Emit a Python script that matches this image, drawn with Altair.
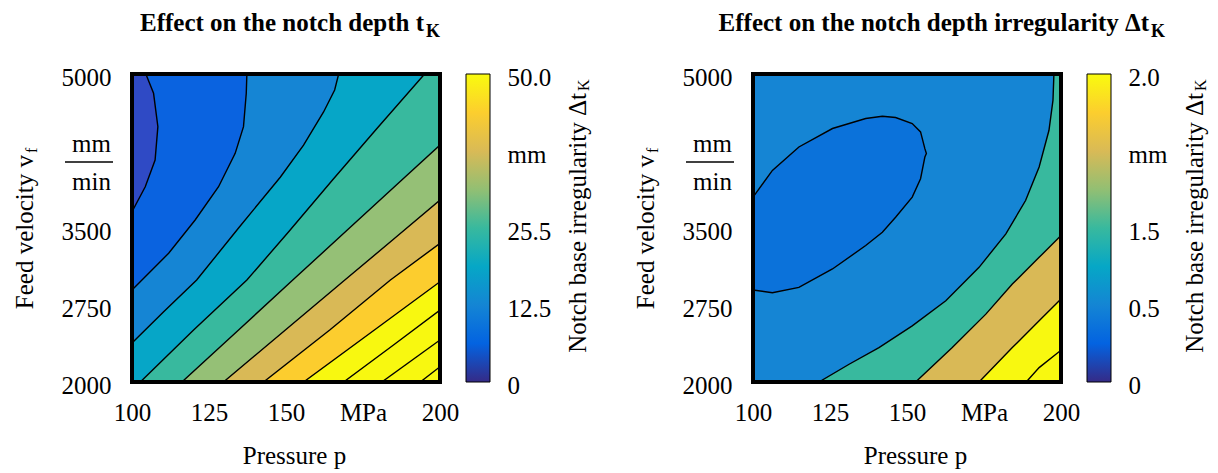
import altair as alt
import pandas as pd

# ---------------- values ----------------
P_TICKS = [100, 125, 150, 175, 200]
P_LABELS = ["100", "125", "150", "MPa", "200"]
V_TICKS = [2000, 2750, 3500, 4250, 5000]
V_LABELS = ["2000", "2750", "3500", "", "5000"]

# left panel (notch depth t_K): contour lines, pressure p [MPa] / feed velocity [mm/min]
L_C1_P = [100.0, 104.3, 107.5, 108.4, 107.0, 104.5]
L_C1_V = [3659, 3902, 4162, 4487, 4812, 5000]
L_C2_P = [100.0, 111.9, 120.5, 128.1, 133.5, 136.2, 137.1, 137.3]
L_C2_V = [2896, 3254, 3578, 3902, 4227, 4487, 4812, 5000]
L_C3_P = [100.0, 110.2, 121.0, 134.6, 148.2, 155.7, 162.2, 165.8, 167.1]
L_C3_V = [2380, 2682, 2993, 3500, 3997, 4308, 4630, 4844, 5000]
L_C4_P = [102.7, 120.0, 137.3, 150.8, 165.1, 179.1, 195.0]
L_C4_V = [2000, 2506, 2993, 3461, 3967, 4454, 5000]
L_C5_P = [116.2, 134.6, 152.2, 169.9, 187.6, 200.0]
L_C5_V = [2000, 2506, 2993, 3480, 3967, 4308]
L_C6_P = [129.7, 149.8, 169.1, 184.6, 200.0]
L_C6_V = [2000, 2506, 2993, 3383, 3773]
L_C7_P = [142.7, 164.2, 183.9, 200.0]
L_C7_V = [2000, 2506, 2993, 3351]
L_C8_P = [155.7, 178.7, 200.0]
L_C8_V = [2000, 2506, 2977]
L_C9_P = [168.7, 184.9, 200.0]
L_C9_V = [2000, 2360, 2701]
L_C10_P = [181.1, 200.0]
L_C10_V = [2000, 2409]
L_C11_P = [193.6, 200.0]
L_C11_V = [2000, 2149]
# fill of the band on the low side of each contour C1..C8, background = highest band
L_FILLS = ["#2F4AC5", "#0A63E0", "#1585D4", "#06A6C7", "#38B99E", "#95C076", "#D9B956", "#FCCD2E"]
L_BG = "#F8F810"

# right panel (notch depth irregularity): contour lines
R_C2_P = [121.4, 131.2, 140.9, 151.7, 162.6, 173.4, 182.1, 188.5, 192.9, 196.1, 197.4, 197.7]
R_C2_V = [2000, 2173, 2335, 2547, 2791, 3117, 3443, 3768, 4094, 4452, 4745, 5000]
R_C3_P = [152.8, 164.7, 175.6, 184.2, 192.9, 200.0]
R_C3_V = [2000, 2335, 2661, 2954, 3214, 3426]
R_C4_P = [173.4, 184.2, 192.9, 200.0]
R_C4_V = [2000, 2335, 2596, 2808]
R_C5_P = [188.7, 192.9, 200.0]
R_C5_V = [2000, 2140, 2310]
# closed inner contour (touches the left edge): pressure, lower and upper feed velocity
E_P = [100.0, 106.3, 114.9, 125.8, 136.6, 142.0, 146.3, 151.7, 154.4, 155.8, 156.3]
E_LO = [2896, 2870, 2921, 3101, 3329, 3459, 3605, 3801, 3980, 4191, 4225]
E_HI = [3801, 4061, 4289, 4469, 4566, 4589, 4576, 4518, 4436, 4273, 4225]
R_FILLS = ["#1585D4", "#38B99E", "#D9B956"]   # low side of R2, R3, R4
E_FILL = "#0B72DA"
R_BG = "#F8F810"

# colour bars
PARULA = ["#352A87", "#0363E1", "#1485D4", "#06A7C6", "#38B99E",
          "#92BF73", "#D9BA56", "#FCCE2E", "#F9FB0E"]
CB_L_TICKS = [0, 12.5, 25, 37.5, 50]
CB_L_LABELS = ["0", "12.5", "25.5", "mm", "50.0"]
CB_R_TICKS = [0, 0.5, 1.0, 1.5, 2.0]
CB_R_LABELS = ["0", "0.5", "1.5", "mm", "2.0"]

FONT = "Liberation Serif"
W = 308
H = 308


def label_expr(ticks, labels):
    expr = "datum.label"
    for t, l in zip(ticks, labels):
        expr = f"datum.value == {t} ? '{l}' : ({expr})"
    return expr


XS = alt.Scale(domain=[100, 200], nice=False, zero=False)
YS = alt.Scale(domain=[2000, 5000], nice=False, zero=False)
XAX = alt.Axis(values=P_TICKS, labelExpr=label_expr(P_TICKS, P_LABELS), ticks=False,
               domain=False, grid=False, labelFont=FONT, labelFontSize=25,
               labelColor="black", labelPadding=18, labelFlush=False, labelOverlap=False,
               title="Pressure p", titleFont=FONT, titleFontSize=25, titleFontWeight="normal",
               titleColor="black", titleX=162, titleY=81, titleBaseline="alphabetic")
YAX = alt.Axis(orient="left", values=V_TICKS, labelExpr=label_expr(V_TICKS, V_LABELS),
               ticks=False, domain=False, grid=False, labelFont=FONT, labelFontSize=25,
               labelColor="black", labelPadding=21, labelFlush=False, labelOverlap=False,
               labelBaseline="middle", labelOffset=3, title=None)


def X(f):
    return alt.X(f, scale=XS, axis=XAX, stack=None)


def Y(f):
    return alt.Y(f, scale=YS, axis=YAX, stack=None)


one = pd.DataFrame({"k": [0]})
box = pd.DataFrame({"p": [100.0], "p2": [200.0], "v": [2000.0], "v2": [5000.0]})


def txt(s, x, y, size=25, bold=False, align="left", angle=0):
    kw = dict(font=FONT, fontSize=size, align=align, baseline="alphabetic", color="black")
    if bold:
        kw["fontWeight"] = "bold"
    if angle:
        kw["angle"] = angle
    return alt.Chart(one).mark_text(**kw).encode(
        x=alt.value(x), y=alt.value(y), text=alt.value(s))


def region(ps, vs, fill):
    rows = sorted(zip(vs, ps))
    if rows[-1][1] >= 200 and rows[-1][0] < 5000:
        rows.append((5000, 200.0))
    df = pd.DataFrame({"v": [r[0] for r in rows], "p": [r[1] for r in rows]})
    df["p0"] = 100.0
    return alt.Chart(df).mark_area(orient="horizontal", color=fill, clip=True).encode(
        y=Y("v:Q"), x=X("p:Q"), x2="p0")


def line(ps, vs):
    df = pd.DataFrame({"p": ps, "v": vs, "i": list(range(len(ps)))})
    return alt.Chart(df).mark_line(color="black", strokeWidth=1.4, clip=True).encode(
        x=X("p:Q"), y=Y("v:Q"), order="i:Q")


def background(fill):
    return alt.Chart(box).mark_rect(color=fill).encode(
        x=X("p:Q"), x2="p2", y=Y("v:Q"), y2="v2")


def frame():
    return alt.Chart(box).mark_rect(fillOpacity=0, stroke="black", strokeWidth=4).encode(
        x=X("p:Q"), x2="p2", y=Y("v:Q"), y2="v2")


def colorbar(ticks, labels, top):
    df = pd.DataFrame({"z0": [0.0], "z1": [float(top)]})
    grad = alt.LinearGradient(
        gradient="linear",
        stops=[alt.GradientStop(offset=i / (len(PARULA) - 1), color=c)
               for i, c in enumerate(PARULA)],
        x1=0, x2=0, y1=1, y2=0)
    cax = alt.Axis(orient="right", offset=50, values=ticks,
                   labelExpr=label_expr(ticks, labels), ticks=False, domain=False,
                   grid=False, labelFont=FONT, labelFontSize=25, labelColor="black",
                   labelPadding=17, labelFlush=False, labelOverlap=False,
                   labelBaseline="middle", labelOffset=3, title=None)
    return alt.Chart(df).mark_rect(fill=grad, stroke="black", strokeWidth=1).encode(
        x=alt.value(334), x2=alt.value(358),
        y=alt.Y("z0:Q", scale=alt.Scale(domain=[0, top], nice=False, zero=False), axis=cax),
        y2="z1")


def common_text(cb_title_x):
    return [
        txt("Feed velocity v", -99, 81, align="right", angle=270),
        txt("f", -95, 79, size=16, align="left", angle=270),
        txt("mm", -21, 78, align="right"),
        txt("min", -21, 116, align="right"),
        alt.Chart(one).mark_rule(color="black", strokeWidth=1.5).encode(
            x=alt.value(-67), x2=alt.value(-19), y=alt.value(88)),
        txt("Notch base irregularity  \u0394t", cb_title_x, 19, align="right", angle=270),
        txt("K", cb_title_x + 3, 17, size=16, align="left", angle=270),
    ]


# ---------- left panel ----------
left_curves = [(L_C1_P, L_C1_V), (L_C2_P, L_C2_V), (L_C3_P, L_C3_V), (L_C4_P, L_C4_V),
               (L_C5_P, L_C5_V), (L_C6_P, L_C6_V), (L_C7_P, L_C7_V), (L_C8_P, L_C8_V)]
left_extra = [(L_C9_P, L_C9_V), (L_C10_P, L_C10_V), (L_C11_P, L_C11_V)]
layers_l = [background(L_BG)]
for (ps, vs), fill in reversed(list(zip(left_curves, L_FILLS))):
    layers_l.append(region(ps, vs, fill))
for ps, vs in left_curves + left_extra:
    layers_l.append(line(ps, vs))
layers_l.append(frame())
layers_l += common_text(454)
layers_l += [txt("Effect on the notch depth t", 292, -43, size=25, bold=True, align="right"),
             txt("K", 294, -37, size=18, bold=True)]
left = alt.layer(alt.layer(*layers_l), colorbar(CB_L_TICKS, CB_L_LABELS, 50)).resolve_scale(
    y="independent").properties(width=W, height=H)

# ---------- right panel ----------
right_curves = [(R_C2_P, R_C2_V), (R_C3_P, R_C3_V), (R_C4_P, R_C4_V)]
layers_r = [background(R_BG)]
for (ps, vs), fill in reversed(list(zip(right_curves, R_FILLS))):
    layers_r.append(region(ps, vs, fill))
edf = pd.DataFrame({"p": E_P, "lo": E_LO, "hi": E_HI})
layers_r.append(alt.Chart(edf).mark_area(color=E_FILL, clip=True).encode(
    x=X("p:Q"), y=Y("lo:Q"), y2="hi"))
for ps, vs in right_curves + [(R_C5_P, R_C5_V)]:
    layers_r.append(line(ps, vs))
layers_r.append(line(E_P + E_P[::-1], E_HI + E_LO[::-1]))
layers_r.append(frame())
layers_r += common_text(450)
layers_r += [txt("Effect on the notch depth irregularity \u0394t", 396, -43, size=25,
                 bold=True, align="right"),
             txt("K", 398, -37, size=18, bold=True)]
right = alt.layer(alt.layer(*layers_r), colorbar(CB_R_TICKS, CB_R_LABELS, 2.0)).resolve_scale(
    y="independent").properties(width=W, height=H)

chart = alt.hconcat(left, right, spacing=313, bounds="flush").properties(
    padding={"left": 5, "top": 3, "right": 0, "bottom": 5},
    background="white",
).configure_view(strokeWidth=0)

chart.save("out.html", embed_options={"renderer": "svg", "actions": False})
